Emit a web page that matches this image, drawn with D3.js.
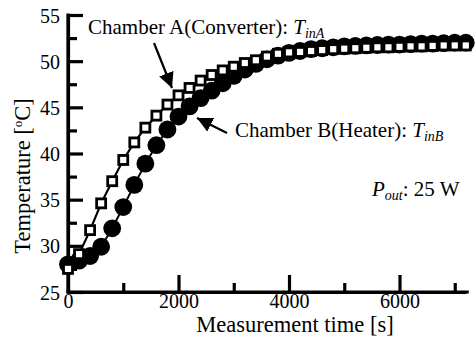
<!DOCTYPE html>
<html>
<head>
<meta charset="UTF-8">
<title>Chamber temperature</title>
<script src="https://cdn.jsdelivr.net/npm/d3@7"></script>
<style>
  html, body { margin: 0; padding: 0; background: #fff; overflow: hidden; }
</style>
</head>
<body>
<div id="chart"></div>
<script>
// time step 200 s, 0 .. 7200
const times = d3.range(0, 7201, 200)
const chamberA = [27.5, 29.1, 31.7, 34.6, 37.0, 39.3, 41.2, 42.8, 44.1, 45.3, 46.3, 47.1, 47.9, 48.5, 49.0, 49.4, 49.8, 50.1, 50.5, 50.8,
  50.95, 51.0, 51.1, 51.2, 51.3, 51.35, 51.4, 51.45, 51.5, 51.5, 51.55, 51.6, 51.6, 51.65, 51.7, 51.7, 51.7]
const chamberB = [28.0, 28.4, 28.9, 29.9, 31.9, 34.2, 36.6, 38.9, 40.9, 42.6, 44.0, 45.1, 46.0, 46.8, 47.6, 48.4, 49.1, 49.7, 50.2, 50.6,
  50.9, 51.1, 51.3, 51.4, 51.5, 51.6, 51.65, 51.7, 51.75, 51.8, 51.8, 51.85, 51.9, 51.9, 51.95, 52.0, 52.0]
const xMajor = [0, 2000, 4000, 6000]
const xMinor = [1000, 3000, 5000, 7000]
const yMajor = [25, 30, 35, 40, 45, 50, 55]
const yMinor = [27.5, 32.5, 37.5, 42.5, 47.5, 52.5]

const FONT = '"Liberation Serif", "Times New Roman", serif'
const W = 476, H = 338
const svg = d3.select('#chart').append('svg').attr('width', W).attr('height', H)

const x = d3.scaleLinear().domain([0, 7200]).range([68, 465.8])
const y = d3.scaleLinear().domain([25, 55]).range([292, 15])

// axes: ticks point inward
const gy = svg.append('g').attr('transform', `translate(${x(0)},0)`)
gy.call(d3.axisLeft(y).tickValues(yMajor).tickSizeInner(-15).tickSizeOuter(0).tickPadding(8).tickFormat(d3.format('d')))
gy.append('g').call(d3.axisLeft(y).tickValues(yMinor).tickSizeInner(-9).tickSizeOuter(0).tickFormat(''))
const gx = svg.append('g').attr('transform', `translate(0,${y(25)})`)
gx.call(d3.axisBottom(x).tickValues(xMajor).tickSizeInner(-17).tickSizeOuter(0).tickPadding(2).tickFormat(d3.format('d')))
gx.append('g').call(d3.axisBottom(x).tickValues(xMinor).tickSizeInner(-9).tickSizeOuter(0).tickFormat(''))
svg.selectAll('.domain').attr('stroke', '#000').attr('stroke-width', 3.2)
svg.selectAll('.tick line').attr('stroke', '#000').attr('stroke-width', 3.2)
gy.selectAll('.tick text').style('font-size', '20px').attr('dy', '0.35em')
gx.selectAll('.tick text').style('font-size', '20px')
// stretch axis lines to the corner
gx.select('.domain').attr('d', `M${x(0) - 1.5},0H${x(7200) + 3}`)
gy.select('.domain').attr('d', `M0,${y(55) - 1.5}V${y(25) + 1.5}`)

const line = d3.line().x((d, i) => x(times[i])).y(d => y(d))

// Chamber B (filled circles) drawn first
svg.append('path').datum(chamberB).attr('d', line).attr('fill', 'none').attr('stroke', '#000').attr('stroke-width', 2)
svg.append('g').selectAll('circle').data(chamberB).join('circle')
  .attr('cx', (d, i) => x(times[i])).attr('cy', d => y(d)).attr('r', 8.9).attr('fill', '#000')

// Chamber A (open squares)
svg.append('path').datum(chamberA).attr('d', line).attr('fill', 'none').attr('stroke', '#000').attr('stroke-width', 2.2)
const sq = 9
svg.append('g').selectAll('rect').data(chamberA).join('rect')
  .attr('x', (d, i) => x(times[i]) - sq / 2).attr('y', d => y(d) - sq / 2)
  .attr('width', sq).attr('height', sq)
  .attr('fill', '#fff').attr('stroke', '#000').attr('stroke-width', 2.8)

// axis titles
svg.append('text').attr('x', 295).attr('y', 332).attr('text-anchor', 'middle')
  .style('font-size', '22.5px').text('Measurement time [s]')
const yt = svg.append('text').attr('transform', 'translate(30,176) rotate(-90)').attr('text-anchor', 'middle')
  .style('font-size', '22.5px')
yt.append('tspan').text('Temperature [')
yt.append('tspan').attr('dy', -8).style('font-size', '13px').text('o')
yt.append('tspan').attr('dy', 8).text('C]')

// annotations
function label(xp, yp, pre, sym, sub, post) {
  const t = svg.append('text').attr('x', xp).attr('y', yp).style('font-size', '21px')
  if (pre) t.append('tspan').text(pre)
  t.append('tspan').style('font-style', 'italic').text(sym)
  t.append('tspan').style('font-style', 'italic').style('font-size', '14px').attr('dy', 4).text(sub)
  if (post) t.append('tspan').attr('dy', -4).text(post)
}
label(88, 34, 'Chamber A(Converter): ', 'T', 'inA', '')
label(235, 137, 'Chamber B(Heater): ', 'T', 'inB', '')
label(372, 196, '', 'P', 'out', ': 25 W')

svg.append('defs').append('marker').attr('id', 'ah').attr('viewBox', '0 0 10 10')
  .attr('refX', 10).attr('refY', 5).attr('markerWidth', 7).attr('markerHeight', 7)
  .attr('markerUnits', 'strokeWidth').attr('orient', 'auto')
  .append('path').attr('d', 'M0,0L10,5L0,10Z').attr('fill', '#000')
function arrow(x1, y1, x2, y2) {
  svg.append('line').attr('x1', x1).attr('y1', y1).attr('x2', x2).attr('y2', y2)
    .attr('stroke', '#000').attr('stroke-width', 2.2).attr('marker-end', 'url(#ah)')
}
arrow(154, 43, 172, 88)
arrow(227, 133, 197, 118)

// axis groups default to sans-serif; put the serif font back on every text
svg.selectAll('text').style('font-family', FONT).attr('fill', '#000')
</script>
</body>
</html>
